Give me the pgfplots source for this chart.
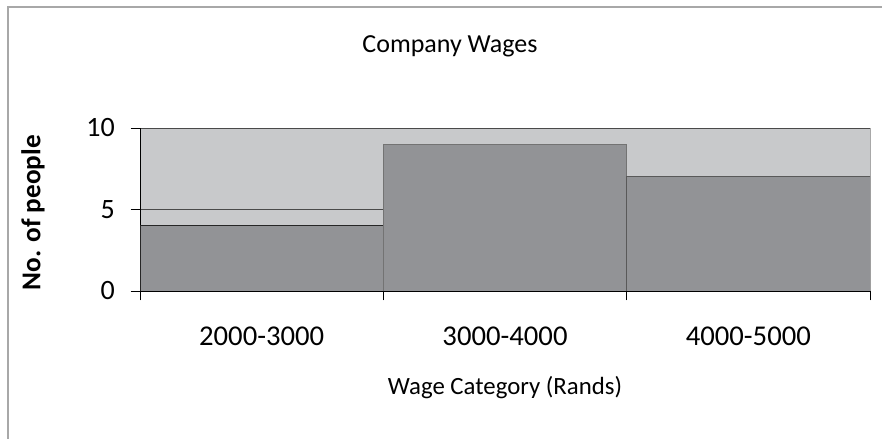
\documentclass[border=0pt]{standalone}
\usepackage{pgfplots}
\pgfplotsset{compat=1.18}
\usepackage{fontspec}
\setmainfont{Carlito}
\definecolor{bggray}{HTML}{C8C9CB}
\definecolor{bargray}{HTML}{929396}
\definecolor{framegray}{HTML}{A8A8A8}
\definecolor{gridgray}{HTML}{4A4A4A}
\begin{document}
\begin{tikzpicture}[x=0.75pt,y=0.75pt]
\path[use as bounding box] (0,0) rectangle (882,439);
\draw[framegray, line width=1.5pt] (7.5,0) -- (7.5,431.5) -- (882,431.5);
\begin{axis}[
  at={(105pt,111pt)}, anchor=south west,
  scale only axis, width=547.5pt, height=122.25pt,
  xmin=0, xmax=3, ymin=0, ymax=10,
  /pgf/number format/assume math mode=true,
  axis background/.style={fill=bggray, draw=framegray},
  axis x line*=bottom, axis y line*=left,
  axis line style={-, black, line width=0.6pt},
  tick align=outside, major tick length=7pt,
  tick style={black, line width=0.6pt},
  ytick={0,5,10},
  yticklabel style={font=\fontsize{21}{21}\selectfont, anchor=east, inner sep=0pt, xshift=-11.75pt},
  xtick={0,1,2,3}, xticklabels={},
  extra x ticks={0.5,1.5,2.5},
  extra x tick labels={2000-3000,3000-4000,4000-5000},
  extra x tick style={major tick length=0pt, xticklabel style={font=\fontsize{21.5}{21.5}\selectfont, anchor=center, yshift=-34pt}},
  ymajorgrids, grid style={gridgray, line width=0.6pt},
  title={Company Wages},
  title style={font=\fontsize{19.5}{20}\selectfont, at={(rel axis cs:0.4247,1.455)}, anchor=center},
  xlabel={Wage Category (Rands)},
  xlabel style={font=\fontsize{18.6}{19}\selectfont, at={(rel axis cs:0.5,-0.595)}, anchor=center},
  ylabel={\textbf{No. of people}},
  ylabel style={font=\fontsize{20.4}{21}\selectfont, at={(rel axis cs:-0.1466,0.48)}, anchor=center, rotate=0},
]
\addplot[ybar interval, fill=bargray, draw=black!85, line width=0.6pt] coordinates {(0,4) (1,4)};
\addplot[ybar interval, fill=bargray, draw=black!55, line width=0.6pt] coordinates {(1,9) (2,9)};
\addplot[ybar interval, fill=bargray, draw=black!65, line width=0.6pt] coordinates {(2,7) (3,7)};
\end{axis}
\end{tikzpicture}
\end{document}
